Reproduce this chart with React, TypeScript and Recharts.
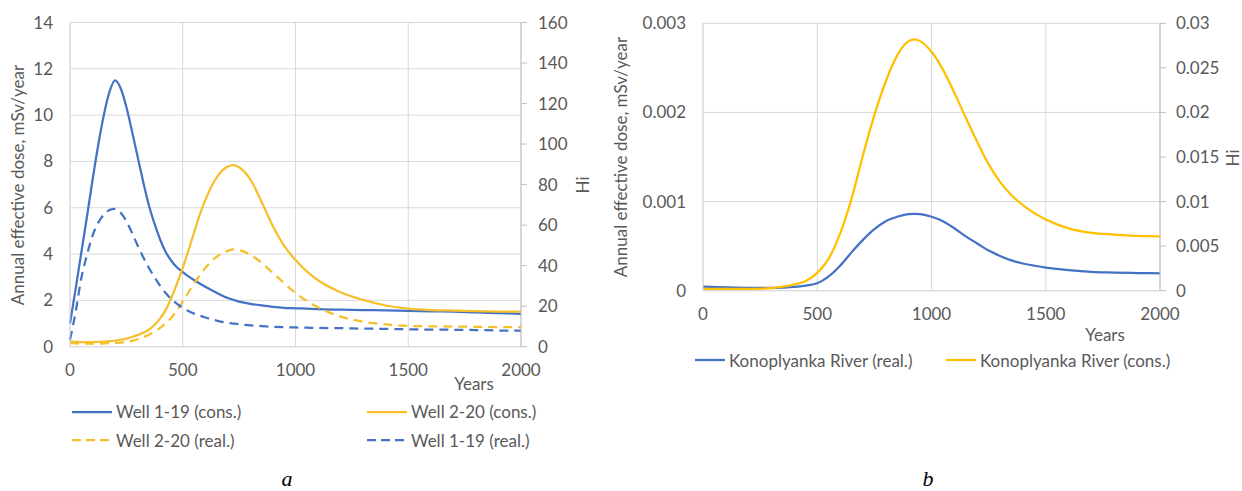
import React from 'react';
import { LineChart, Line, XAxis, YAxis, CartesianGrid } from 'recharts';

// ---------- Chart a ----------
const yearsA = [0, 25, 50, 75, 100, 125, 150, 175, 200, 225, 250, 275, 300, 325, 350, 375, 400, 425, 450, 475, 500, 525, 550, 575, 600, 650, 700, 725, 750, 800, 850, 900, 950, 1000, 1050, 1100, 1200, 1300, 1400, 1500, 1600, 1700, 1800, 1900, 2000];
const well119cons = [1.0, 2.5, 4.05, 5.6, 7.2, 8.7, 10.0, 11.0, 11.5, 11.15, 10.35, 9.3, 8.2, 7.1, 6.1, 5.3, 4.62, 4.08, 3.7, 3.42, 3.22, 3.04, 2.88, 2.73, 2.59, 2.33, 2.1, 2.02, 1.95, 1.85, 1.78, 1.72, 1.68, 1.66, 1.64, 1.62, 1.6, 1.58, 1.57, 1.55, 1.53, 1.51, 1.48, 1.45, 1.42];
const well220cons = [0.22, 0.21, 0.2, 0.2, 0.2, 0.21, 0.22, 0.24, 0.26, 0.3, 0.35, 0.42, 0.5, 0.6, 0.74, 0.94, 1.22, 1.6, 2.12, 2.74, 3.4, 4.15, 4.93, 5.68, 6.33, 7.3, 7.78, 7.84, 7.75, 7.22, 6.25, 5.2, 4.35, 3.74, 3.25, 2.87, 2.35, 2.02, 1.78, 1.64, 1.58, 1.56, 1.54, 1.52, 1.51];
const well220real = [0.15, 0.14, 0.13, 0.13, 0.13, 0.13, 0.14, 0.15, 0.16, 0.18, 0.21, 0.25, 0.32, 0.41, 0.52, 0.65, 0.81, 1.01, 1.26, 1.58, 1.95, 2.34, 2.72, 3.08, 3.4, 3.88, 4.14, 4.2, 4.17, 3.97, 3.62, 3.18, 2.74, 2.32, 1.98, 1.7, 1.3, 1.08, 0.96, 0.9, 0.88, 0.87, 0.86, 0.85, 0.84];
const well119real = [0.3, 1.5, 2.95, 3.95, 4.8, 5.35, 5.7, 5.9, 5.95, 5.78, 5.42, 4.92, 4.37, 3.86, 3.4, 3.0, 2.63, 2.31, 2.05, 1.85, 1.68, 1.54, 1.43, 1.34, 1.26, 1.13, 1.03, 1.0, 0.97, 0.92, 0.89, 0.86, 0.84, 0.83, 0.82, 0.81, 0.8, 0.78, 0.77, 0.75, 0.74, 0.73, 0.72, 0.7, 0.69];

const xTicks = [0, 500, 1000, 1500, 2000];
const doseTicksA = [0, 2, 4, 6, 8, 10, 12, 14];
const hiTicksA = [0, 20, 40, 60, 80, 100, 120, 140, 160];

// ---------- Chart b ----------
const yearsB = [0, 100, 200, 300, 350, 400, 450, 500, 550, 600, 650, 700, 750, 800, 850, 900, 925, 950, 1000, 1050, 1100, 1150, 1200, 1250, 1300, 1350, 1400, 1450, 1500, 1600, 1700, 1800, 1900, 2000];
const riverReal = [0.000045, 0.000038, 0.000033, 0.000032, 0.000035, 0.000042, 0.000058, 0.000083, 0.00016, 0.00028, 0.00043, 0.00057, 0.00069, 0.00078, 0.00083, 0.00086, 0.000862, 0.00086, 0.00083, 0.00078, 0.0007, 0.00061, 0.00053, 0.00045, 0.00039, 0.00034, 0.000305, 0.00028, 0.00026, 0.00023, 0.00021, 0.000203, 0.000198, 0.000195];
const riverCons = [0.00002, 0.00002, 0.00002, 0.00003, 0.000045, 0.00007, 0.00011, 0.0002, 0.00036, 0.00064, 0.00103, 0.00152, 0.00197, 0.00235, 0.00264, 0.0028, 0.00282, 0.0028, 0.00268, 0.00248, 0.00222, 0.00194, 0.00167, 0.00142, 0.00122, 0.00107, 0.00096, 0.00087, 0.0008, 0.0007, 0.00065, 0.00063, 0.000615, 0.00061];
const doseTicksB = [0, 0.001, 0.002, 0.003];
const hiTicksB = [0, 0.005, 0.01, 0.015, 0.02, 0.025, 0.03];

const BLUE = '#4472C4';
const YELLOW_A = '#F5C02B';
const YELLOW_B = '#FFC000';
const GRID = '#d9d9d9';
const TEXT = '#595959';
const FONT = 'Lato, "Open Sans", sans-serif';
const FS = 17;

const seriesA = [
  { key: 'c119', name: 'Well 1-19 (cons.)', values: well119cons, color: BLUE, dash: undefined as string | undefined },
  { key: 'c220', name: 'Well 2-20 (cons.)', values: well220cons, color: YELLOW_A, dash: undefined as string | undefined },
  { key: 'r220', name: 'Well 2-20 (real.)', values: well220real, color: YELLOW_A, dash: '9 6' },
  { key: 'r119', name: 'Well 1-19 (real.)', values: well119real, color: BLUE, dash: '9 6' },
];
const seriesB = [
  { key: 'real', name: 'Konoplyanka River (real.)', values: riverReal, color: BLUE },
  { key: 'cons', name: 'Konoplyanka River (cons.)', values: riverCons, color: YELLOW_B },
];

const dataA = yearsA.map((y, i) => {
  const row: Record<string, number> = { year: y };
  seriesA.forEach((s) => (row[s.key] = s.values[i]));
  return row;
});
const dataB = yearsB.map((y, i) => {
  const row: Record<string, number> = { year: y };
  seriesB.forEach((s) => (row[s.key] = s.values[i]));
  return row;
});

const tickStyle = { fill: TEXT, fontSize: FS, fontFamily: FONT };

const abs = (left: number, top: number, extra: React.CSSProperties = {}): React.CSSProperties => ({
  position: 'absolute', left, top, ...extra,
});

const VTitle = ({ cx, cy, text }: { cx: number; cy: number; text: string }) => (
  <div style={abs(cx, cy, { transform: 'translate(-50%, -50%) rotate(-90deg)', whiteSpace: 'nowrap', fontFamily: FONT, fontSize: FS, color: TEXT, lineHeight: '18px' })}>{text}</div>
);

const LegendItem = ({ x, y, name, color, dash, len }: { x: number; y: number; name: string; color: string; dash?: string; len: number }) => (
  <div style={abs(x, y - 10, { display: 'flex', alignItems: 'center', height: 20, whiteSpace: 'nowrap', fontFamily: FONT, fontSize: FS, color: TEXT })}>
    <svg width={len} height={20} style={{ display: 'block' }}>
      <line x1={0} y1={10} x2={len} y2={10} stroke={color} strokeWidth={2.25} strokeDasharray={dash} />
    </svg>
    <span style={{ marginLeft: 4 }}>{name}</span>
  </div>
);

const Letter = ({ cx, text }: { cx: number; text: string }) => (
  <div style={abs(cx - 10, 469, { width: 20, height: 20, textAlign: 'center', lineHeight: '20px', fontFamily: '"Liberation Serif", "Times New Roman", serif', fontStyle: 'italic', fontSize: 22, color: '#000' })}>{text}</div>
);

export default function App() {
  return (
    <div style={{ position: 'absolute', left: 0, top: 0, width: 1242, height: 491, background: '#fff', overflow: 'hidden' }}>
      {/* Chart a */}
      <div style={abs(0, 0)}>
        <LineChart width={600} height={400} data={dataA} margin={{ top: 22.5, right: 0, bottom: 23.3, left: 0 }}>
          <CartesianGrid yAxisId="dose" stroke={GRID} strokeWidth={1} verticalValues={xTicks} horizontalValues={doseTicksA} />
          <XAxis dataKey="year" type="number" domain={[0, 2000]} ticks={xTicks} height={30} tickLine={false} tickSize={0} tickMargin={17} axisLine={{ stroke: GRID }} tick={tickStyle} interval={0} />
          <YAxis yAxisId="dose" orientation="left" width={70} domain={[0, 14]} ticks={doseTicksA} tickLine={false} tickSize={0} tickMargin={17} axisLine={{ stroke: GRID }} tick={tickStyle} interval={0} allowDataOverflow />
          <YAxis yAxisId="hi" orientation="right" width={79} domain={[0, 160]} ticks={hiTicksA} tickLine={{ stroke: '#bfbfbf' }} tickSize={6} tickMargin={11} axisLine={{ stroke: '#bfbfbf' }} tick={{ ...tickStyle, textAnchor: 'start' }} interval={0} allowDataOverflow type="number" />
          {seriesA.map((s) => (
            <Line key={s.key} yAxisId="dose" dataKey={s.key} name={s.name} type="monotone" stroke={s.color} strokeWidth={2.25} strokeDasharray={s.dash} dot={false} activeDot={false} isAnimationActive={false} />
          ))}
        </LineChart>
      </div>
      <VTitle cx={17.5} cy={185} text="Annual effective dose, mSv/year" />
      <VTitle cx={583} cy={185} text="Hi" />
      <div style={abs(474, 384, { transform: 'translate(-50%, -50%)', fontFamily: FONT, fontSize: FS, color: TEXT, lineHeight: '18px' })}>Years</div>
      <LegendItem x={72} y={411.5} name={seriesA[0].name} color={seriesA[0].color} len={40} />
      <LegendItem x={367} y={411.5} name={seriesA[1].name} color={seriesA[1].color} len={40} />
      <LegendItem x={72} y={440} name={seriesA[2].name} color={seriesA[2].color} dash="9 5" len={40} />
      <LegendItem x={367} y={440} name={seriesA[3].name} color={seriesA[3].color} dash="9 5" len={40} />
      <Letter cx={287} text="a" />

      {/* Chart b */}
      <div style={abs(600, 0)}>
        <LineChart width={642} height={340} data={dataB} margin={{ top: 23.3, right: 0, bottom: 19.3, left: 0 }}>
          <CartesianGrid yAxisId="dose" stroke={GRID} strokeWidth={1} verticalValues={xTicks} horizontalValues={doseTicksB} />
          <XAxis dataKey="year" type="number" domain={[0, 2000]} ticks={xTicks} height={30} tickLine={false} tickSize={0} tickMargin={17} axisLine={{ stroke: GRID }} tick={tickStyle} interval={0} />
          <YAxis yAxisId="dose" orientation="left" width={103} domain={[0, 0.003]} ticks={doseTicksB} tickLine={false} tickSize={0} tickMargin={17} axisLine={{ stroke: GRID }} tick={tickStyle} interval={0} allowDataOverflow />
          <YAxis yAxisId="hi" orientation="right" width={82} domain={[0, 0.03]} ticks={hiTicksB} tickLine={{ stroke: '#bfbfbf' }} tickSize={6} tickMargin={10} axisLine={{ stroke: '#bfbfbf' }} tick={{ ...tickStyle, textAnchor: 'start' }} interval={0} allowDataOverflow type="number" />
          {seriesB.map((s) => (
            <Line key={s.key} yAxisId="dose" dataKey={s.key} name={s.name} type="monotone" stroke={s.color} strokeWidth={2.25} dot={false} activeDot={false} isAnimationActive={false} />
          ))}
        </LineChart>
      </div>
      <VTitle cx={621} cy={157} text="Annual effective dose, mSv/year" />
      <VTitle cx={1233} cy={158} text="Hi" />
      <div style={abs(1105, 335, { transform: 'translate(-50%, -50%)', fontFamily: FONT, fontSize: FS, color: TEXT, lineHeight: '18px' })}>Years</div>
      <LegendItem x={695} y={360} name={seriesB[0].name} color={seriesB[0].color} len={30} />
      <LegendItem x={946} y={360} name={seriesB[1].name} color={seriesB[1].color} len={30} />
      <Letter cx={928} text="b" />
    </div>
  );
}
